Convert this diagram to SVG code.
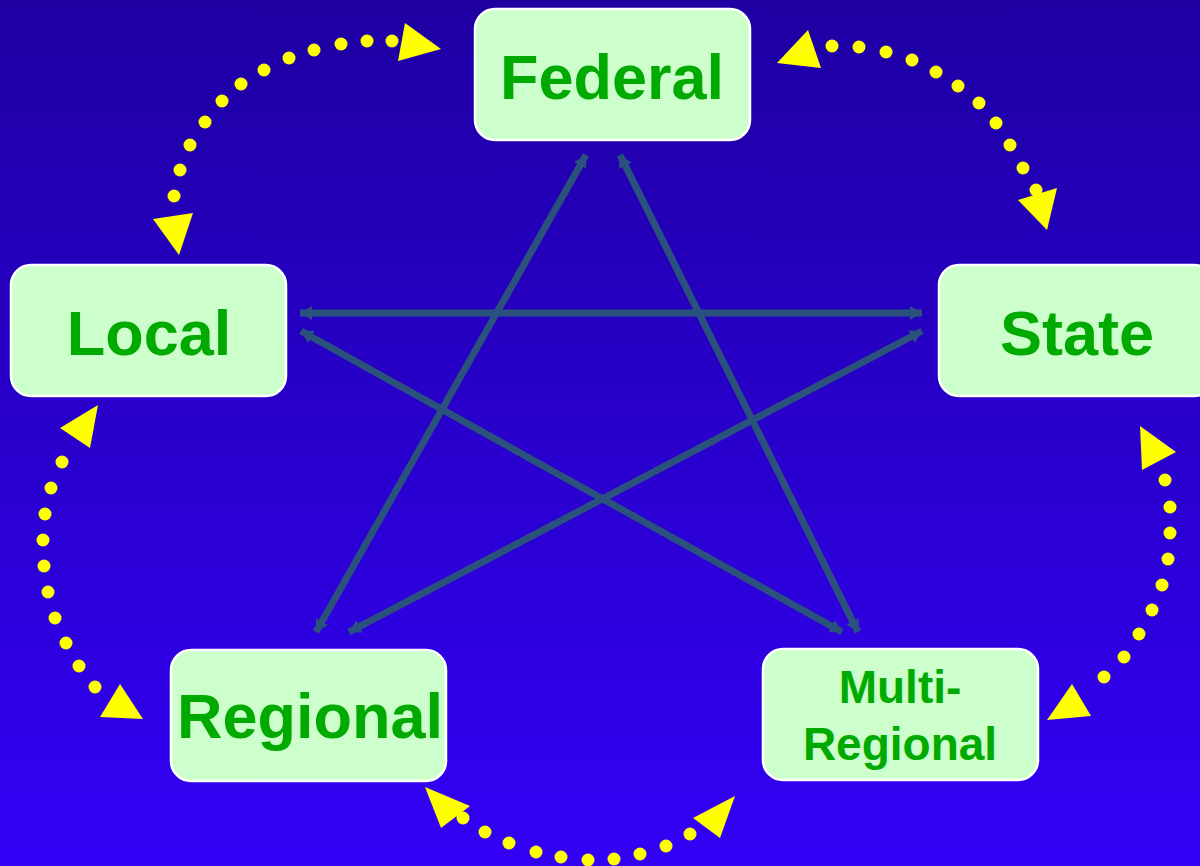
<svg xmlns="http://www.w3.org/2000/svg" width="1200" height="866" viewBox="0 0 1200 866">
<defs>
<linearGradient id="bg" x1="0" y1="0" x2="0" y2="1">
<stop offset="0" stop-color="#1e00a2"/>
<stop offset="1" stop-color="#3300f6"/>
</linearGradient>
<marker id="ah" viewBox="0 -7 12 14" refX="12" refY="0" markerWidth="12" markerHeight="14" markerUnits="userSpaceOnUse" orient="auto-start-reverse">
<path d="M0,-7 L12,0 L0,7 z" fill="#2a527c"/>
</marker>
<style>
.box{fill:#ccffcc;stroke:#ffffff;stroke-width:2.5}
.lbl{font-family:"Liberation Sans",Arial,sans-serif;font-weight:bold;fill:#00aa00;text-anchor:middle}
.big{font-size:63px}
.small{font-size:46px}
.pent{stroke:#2a527c;stroke-width:7;fill:none;marker-start:url(#ah);marker-end:url(#ah)}
.dot{fill:#ffff00}
.tri{fill:#ffff00}
</style>
</defs>
<rect width="1200" height="866" fill="url(#bg)"/>
<g id="connectors">
<g id="pentagram">
<line class="pent" x1="300" y1="313" x2="922" y2="313"/>
<line class="pent" x1="301" y1="331" x2="842" y2="632"/>
<line class="pent" x1="922" y1="331" x2="349" y2="632"/>
<line class="pent" x1="586" y1="155" x2="316" y2="632"/>
<line class="pent" x1="620" y1="155" x2="858" y2="632"/>
</g>
<g id="arc-local-federal">
<circle class="dot" cx="174" cy="196" r="6.5"/>
<circle class="dot" cx="180" cy="170" r="6.5"/>
<circle class="dot" cx="190" cy="145" r="6.5"/>
<circle class="dot" cx="205" cy="122" r="6.5"/>
<circle class="dot" cx="222" cy="101" r="6.5"/>
<circle class="dot" cx="241" cy="84" r="6.5"/>
<circle class="dot" cx="264" cy="70" r="6.5"/>
<circle class="dot" cx="289" cy="58" r="6.5"/>
<circle class="dot" cx="314" cy="50" r="6.5"/>
<circle class="dot" cx="341" cy="44" r="6.5"/>
<circle class="dot" cx="367" cy="41" r="6.5"/>
<circle class="dot" cx="392" cy="41" r="6.5"/>
<polygon class="tri" points="405,23 441,49 398,61"/>
<polygon class="tri" points="153,219 193,213 179,255"/>
</g>
<g id="arc-federal-state">
<circle class="dot" cx="832" cy="46" r="6.5"/>
<circle class="dot" cx="859" cy="47" r="6.5"/>
<circle class="dot" cx="886" cy="52" r="6.5"/>
<circle class="dot" cx="912" cy="60" r="6.5"/>
<circle class="dot" cx="936" cy="72" r="6.5"/>
<circle class="dot" cx="958" cy="86" r="6.5"/>
<circle class="dot" cx="979" cy="103" r="6.5"/>
<circle class="dot" cx="996" cy="123" r="6.5"/>
<circle class="dot" cx="1010" cy="145" r="6.5"/>
<circle class="dot" cx="1023" cy="168" r="6.5"/>
<circle class="dot" cx="1036" cy="190" r="6.5"/>
<polygon class="tri" points="808,30 821,68 777,63"/>
<polygon class="tri" points="1018,200 1057,188 1047,230"/>
</g>
<g id="arc-state-multi">
<circle class="dot" cx="1165" cy="480" r="6.5"/>
<circle class="dot" cx="1170" cy="507" r="6.5"/>
<circle class="dot" cx="1170" cy="533" r="6.5"/>
<circle class="dot" cx="1168" cy="559" r="6.5"/>
<circle class="dot" cx="1162" cy="585" r="6.5"/>
<circle class="dot" cx="1152" cy="610" r="6.5"/>
<circle class="dot" cx="1139" cy="634" r="6.5"/>
<circle class="dot" cx="1124" cy="657" r="6.5"/>
<circle class="dot" cx="1104" cy="677" r="6.5"/>
<polygon class="tri" points="1140,426 1176,452 1142,470"/>
<polygon class="tri" points="1072,684 1091,716 1047,720"/>
</g>
<g id="arc-multi-regional">
<circle class="dot" cx="463" cy="818" r="6.5"/>
<circle class="dot" cx="485" cy="832" r="6.5"/>
<circle class="dot" cx="509" cy="843" r="6.5"/>
<circle class="dot" cx="536" cy="852" r="6.5"/>
<circle class="dot" cx="561" cy="857" r="6.5"/>
<circle class="dot" cx="588" cy="860" r="6.5"/>
<circle class="dot" cx="614" cy="859" r="6.5"/>
<circle class="dot" cx="640" cy="854" r="6.5"/>
<circle class="dot" cx="666" cy="846" r="6.5"/>
<circle class="dot" cx="690" cy="834" r="6.5"/>
<polygon class="tri" points="693,818 735,796 720,838"/>
<polygon class="tri" points="425,787 470,806 441,828"/>
</g>
<g id="arc-regional-local">
<circle class="dot" cx="62" cy="462" r="6.5"/>
<circle class="dot" cx="51" cy="488" r="6.5"/>
<circle class="dot" cx="45" cy="514" r="6.5"/>
<circle class="dot" cx="43" cy="540" r="6.5"/>
<circle class="dot" cx="44" cy="566" r="6.5"/>
<circle class="dot" cx="48" cy="592" r="6.5"/>
<circle class="dot" cx="55" cy="618" r="6.5"/>
<circle class="dot" cx="66" cy="643" r="6.5"/>
<circle class="dot" cx="79" cy="666" r="6.5"/>
<circle class="dot" cx="95" cy="687" r="6.5"/>
<polygon class="tri" points="98,405 90,448 60,428"/>
<polygon class="tri" points="100,717 120,684 143,719"/>
</g>
</g>
<g id="federal">
<rect class="box" x="475" y="9" width="275" height="131" rx="20"/>
<text class="lbl big" x="612" y="99">Federal</text>
</g>
<g id="local">
<rect class="box" x="11" y="265" width="275" height="131" rx="20"/>
<text class="lbl big" x="149" y="355">Local</text>
</g>
<g id="state">
<rect class="box" x="939" y="265" width="275" height="131" rx="20"/>
<text class="lbl big" x="1077" y="355">State</text>
</g>
<g id="regional">
<rect class="box" x="171" y="650" width="275" height="131" rx="20"/>
<text class="lbl big" x="310" y="738">Regional</text>
</g>
<g id="multi-regional">
<rect class="box" x="763" y="649" width="275" height="131" rx="20"/>
<text class="lbl small" x="900" y="703">Multi-</text>
<text class="lbl small" x="900" y="760">Regional</text>
</g>
</svg>
